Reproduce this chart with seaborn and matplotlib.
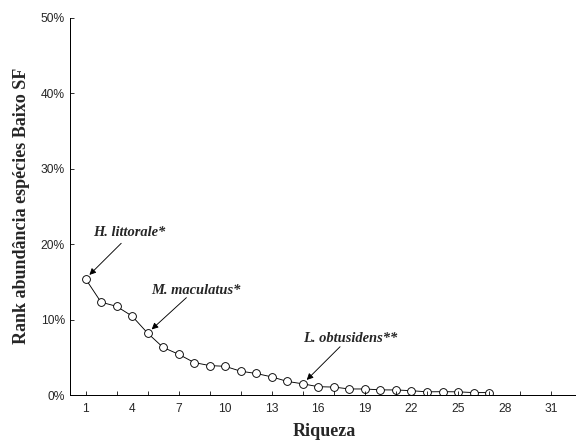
import matplotlib
matplotlib.use("Agg")
import matplotlib.pyplot as plt
import seaborn as sns
import pandas as pd
from matplotlib.ticker import FuncFormatter, FixedLocator

# Data
rank = list(range(1, 28))
abund_pct = [15.4, 12.3, 11.75, 10.46, 8.2, 6.3, 5.4, 4.3, 3.9, 3.8,
             3.15, 2.85, 2.4, 1.8, 1.48, 1.1, 1.05, 0.8, 0.8, 0.68,
             0.67, 0.57, 0.42, 0.44, 0.42, 0.32, 0.32]
label_ticks = [1, 4, 7, 10, 13, 16, 19, 22, 25, 28, 31]
mark_ticks = list(range(1, 33, 2))
y_ticks = [0, 10, 20, 30, 40, 50]
# (name, rank, text position (x, y%), arrow tail (x, y%))
annotations = [
    ("H. littorale*", 1, (1.5, 20.7), (3.3, 20.1)),
    ("M. maculatus*", 5, (5.2, 13.0), (7.5, 12.9)),
    ("L. obtusidens**", 15, (15.0, 6.6), (17.4, 6.4)),
]

df = pd.DataFrame({"Riqueza": rank, "Abund": [v / 100 for v in abund_pct]})

sns.set_style("ticks")
fig = plt.figure(figsize=(8, 6.125), dpi=72)
ax = fig.add_axes([0.1215, 0.1043, 0.8785, 0.8557])

sns.lineplot(data=df, x="Riqueza", y="Abund", ax=ax, color="black", linewidth=0.9,
             marker="o", markersize=7.8, markerfacecolor="white",
             markeredgecolor="black", markeredgewidth=0.9)

ax.set_xlim(0, 32.6)
ax.set_ylim(0, 0.5)

# x: unlabeled ticks every 2, labels every 3 without ticks
ax.xaxis.remove_overlapping_locs = False
ax.xaxis.set_major_locator(FixedLocator(mark_ticks))
ax.set_xticklabels([])
ax.xaxis.set_minor_locator(FixedLocator(label_ticks))
ax.set_xticklabels([str(t) for t in label_ticks], minor=True)
ax.tick_params(axis="x", which="major", direction="in", length=4, width=0.8, color="black")
ax.tick_params(axis="x", which="minor", length=0, pad=8, labelsize=12)

ax.set_yticks([t / 100 for t in y_ticks])
ax.yaxis.set_major_formatter(FuncFormatter(lambda v, p: f"{v*100:.0f}%"))
ax.tick_params(axis="y", direction="in", length=4, width=0.8, labelsize=12, pad=5, color="black")

for lab in ax.get_xticklabels(minor=True) + ax.get_yticklabels():
    lab.set_family("Liberation Sans")

sns.despine(ax=ax)
for s in ["left", "bottom"]:
    ax.spines[s].set_linewidth(1.0)
    ax.spines[s].set_color("black")
ax.set_axisbelow(False)

ax.set_xlabel("Riqueza", family="Liberation Serif", fontweight="bold", fontsize=18)
ax.set_ylabel("Rank abundância espécies Baixo SF", family="Liberation Serif",
              fontweight="bold", fontsize=18)
ax.xaxis.set_label_coords(0.503, -0.075)
ax.yaxis.set_label_coords(-0.079, 0.5)

for name, r, (tx, ty), (ax0, ay0) in annotations:
    ax.text(tx, ty / 100, name, family="Liberation Serif", fontweight="bold",
            fontstyle="italic", fontsize=14.5, ha="left", va="bottom")
    ax.annotate("", xy=(r, abund_pct[r - 1] / 100), xycoords="data",
                xytext=(ax0, ay0 / 100), textcoords="data",
                arrowprops=dict(arrowstyle="-|>", color="black", lw=0.9,
                                shrinkA=0, shrinkB=5.5, mutation_scale=13))

fig.savefig("out.png", dpi=72)
